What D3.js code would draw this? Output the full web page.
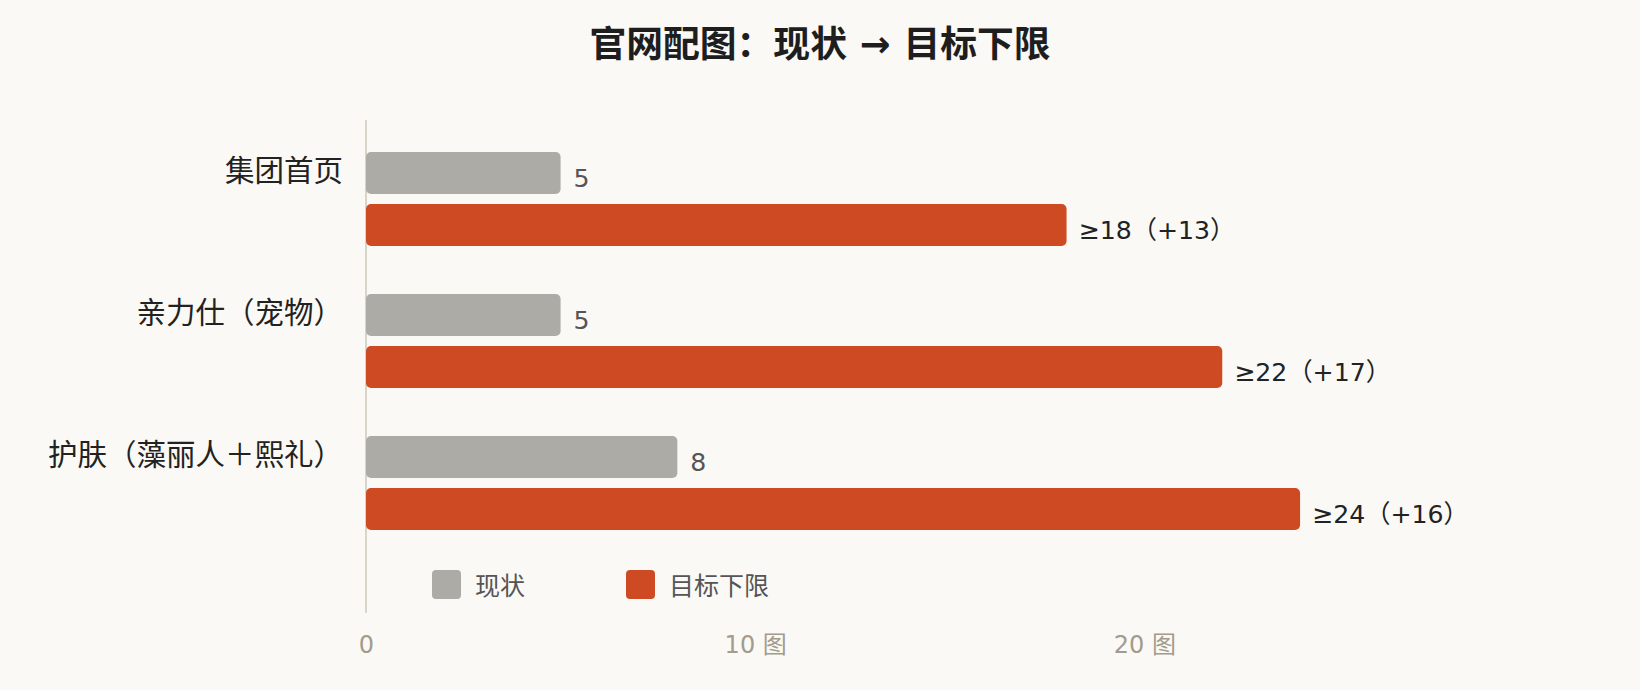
<!DOCTYPE html>
<html><head><meta charset="utf-8">
<script src="https://cdn.jsdelivr.net/npm/d3@7"></script>
<style>
html,body{margin:0;padding:0;background:#faf9f5;}
svg{display:block;font-family:"DejaVu Sans","Noto Sans CJK SC",sans-serif;}
</style></head>
<body>
<svg id="chart" width="1640" height="690"></svg>
<script>
const categories = ["集团首页", "亲力仕（宠物）", "护肤（藻丽人＋熙礼）"];
const currentValues = [5, 5, 8];
const targetValues = [18, 22, 24];
const seriesNames = ["现状", "目标下限"];
const tickValues = [0, 10, 20];
const tickLabels = ["0", "10 图", "20 图"];
const title = "官网配图：现状 → 目标下限";

const colors = {"现状": "#adaba6", "目标下限": "#cd4a22"};

const svg = d3.select("#chart");
svg.append("rect").attr("width", 1640).attr("height", 690).attr("fill", "#faf9f5");

const x = d3.scaleLinear().domain([0, 30]).range([366, 1533.6]);
const y = d3.scaleBand().domain(categories).range([128, 554]).paddingInner(0.338).paddingOuter(0.169);
const sub = d3.scaleBand().domain(seriesNames).range([0, y.bandwidth()]).paddingInner(0.19);

// title
svg.append("text").attr("x", 820).attr("y", 57).attr("text-anchor", "middle")
  .attr("font-size", 36.8).attr("font-weight", "bold").attr("fill", "#1e1e1e").text(title);

// axis line
svg.append("line").attr("x1", x(0)).attr("x2", x(0)).attr("y1", 120).attr("y2", 613)
  .attr("stroke", "#d8d4c8").attr("stroke-width", 2);

const rows = categories.map((c, i) => ({cat: c, cur: currentValues[i], tgt: targetValues[i]}));

const g = svg.selectAll("g.row").data(rows).join("g").attr("class", "row")
  .attr("transform", d => `translate(0,${y(d.cat)})`);

// category labels
g.append("text").attr("x", 343).attr("y", sub("现状") + sub.bandwidth() / 2 + 8)
  .attr("text-anchor", "end").attr("font-size", 29.5).attr("fill", "#222").text(d => d.cat);

// current bars
g.append("rect").attr("x", x(0)).attr("y", sub("现状"))
  .attr("width", d => x(d.cur) - x(0)).attr("height", sub.bandwidth())
  .attr("rx", 5).attr("fill", colors["现状"]);
g.append("text").attr("x", d => x(d.cur) + 13).attr("y", sub("现状") + sub.bandwidth() / 2 + 14)
  .attr("font-size", 25.2).attr("fill", "#555").text(d => d.cur);

// target bars
g.append("rect").attr("x", x(0)).attr("y", sub("目标下限"))
  .attr("width", d => x(d.tgt) - x(0)).attr("height", sub.bandwidth())
  .attr("rx", 5).attr("fill", colors["目标下限"]);
g.append("text").attr("x", d => x(d.tgt) + 12).attr("y", sub("目标下限") + sub.bandwidth() / 2 + 14)
  .attr("font-size", 25.2).attr("fill", "#222").text(d => `≥${d.tgt}（+${d.tgt - d.cur}）`);

// x axis ticks
const axis = d3.axisBottom(x).tickValues(tickValues).tickFormat((d, i) => tickLabels[i]).tickSize(0).tickPadding(0);
const ag = svg.append("g").attr("transform", "translate(0,653)").call(axis);
ag.select(".domain").remove();
ag.selectAll("text").attr("dy", 0).attr("y", 0).attr("font-size", 24).attr("fill", "#a39b8b")
  .attr("font-family", '"DejaVu Sans","Noto Sans CJK SC",sans-serif');

// legend
const legendX = [432, 626];
const lg = svg.selectAll("g.leg").data(seriesNames).join("g").attr("class", "leg")
  .attr("transform", (d, i) => `translate(${legendX[i]},570)`);
lg.append("rect").attr("width", 29).attr("height", 29).attr("rx", 4).attr("fill", d => colors[d]);
lg.append("text").attr("x", 43).attr("y", 24.5).attr("font-size", 25).attr("fill", "#555").text(d => d);
</script>
</body></html>
